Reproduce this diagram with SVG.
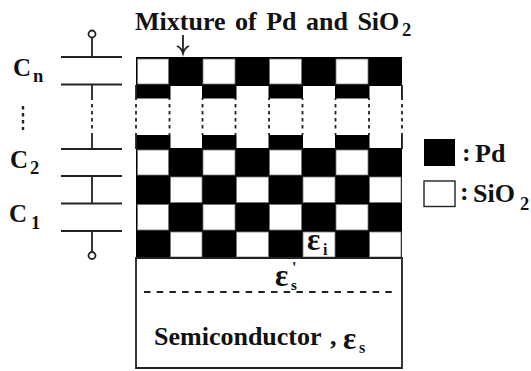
<svg xmlns="http://www.w3.org/2000/svg" width="531" height="371" viewBox="0 0 531 371">
<style>
text{font-family:"Liberation Serif","Times New Roman",serif;font-weight:bold;fill:#111}
.t{font-size:26px;word-spacing:3px}.b{font-size:26px}.c{font-size:25px}.s{font-size:18.500px}.e{font-size:31px}.u{font-size:16px}
.k{fill:#000}.w{fill:#fff;stroke:#777;stroke-width:.8}
.o{fill:#fff}
.l{stroke:#222;stroke-width:1.800;fill:none}
.d{stroke:#222;stroke-width:1.800;fill:none;stroke-dasharray:3.500 3.500}
</style>
<rect width="531" height="371" fill="#fff"/>
<g id="mixture-layer">
<rect class="k" x="136" y="57" width="266" height="201"/>
<rect class="o" x="136" y="98.500" width="266" height="36.500"/>
<g id="cells-white">
<rect class="w" x="137.500" y="59" width="31" height="25"/><rect class="w" x="203" y="59" width="32" height="25"/><rect class="w" x="269.500" y="59" width="32" height="25"/><rect class="w" x="336" y="59" width="32" height="25"/>
<rect class="o" x="170.500" y="86" width="31.500" height="14"/><rect class="o" x="236.500" y="86" width="32" height="14"/><rect class="o" x="303" y="86" width="32" height="14"/><rect class="o" x="369.500" y="86" width="31.500" height="14"/>
<rect class="o" x="170.500" y="134" width="31.500" height="14"/><rect class="o" x="236.500" y="134" width="32" height="14"/><rect class="o" x="303" y="134" width="32" height="14"/><rect class="o" x="369.500" y="134" width="31.500" height="14"/>
<rect class="w" x="137.500" y="150" width="31" height="25"/><rect class="w" x="203" y="150" width="32" height="25"/><rect class="w" x="269.500" y="150" width="32" height="25"/><rect class="w" x="336" y="150" width="32" height="25"/>
<rect class="w" x="170.500" y="177" width="31.500" height="25.500"/><rect class="w" x="236.500" y="177" width="32" height="25.500"/><rect class="w" x="303" y="177" width="32" height="25.500"/><rect class="w" x="369.500" y="177" width="31.500" height="25.500"/>
<rect class="w" x="137.500" y="204.500" width="31" height="25.500"/><rect class="w" x="203" y="204.500" width="32" height="25.500"/><rect class="w" x="269.500" y="204.500" width="32" height="25.500"/><rect class="w" x="336" y="204.500" width="32" height="25.500"/>
<rect class="w" x="170.500" y="232" width="31.500" height="25"/><rect class="w" x="236.500" y="232" width="32" height="25"/><rect class="w" x="303" y="232" width="32" height="25"/><rect class="w" x="369.500" y="232" width="31.500" height="25"/>
</g>
</g>
<g id="semiconductor">
<path class="l" d="M136 258H402V368H136Z"/>
<path class="l" d="M144 292H394" stroke-dasharray="6.500 6.200" stroke-width="2"/>
<text class="b" x="154" y="345">Semiconductor</text><text class="b" x="330" y="345">,</text>
<text class="e" x="343" y="349">ε<tspan class="u" x="359" y="353">s</tspan></text>
<text class="e" x="275" y="286">ε<tspan x="291" y="290" style="font-size:15px">s</tspan><tspan x="292" y="273" style="font-size:16px">'</tspan></text>
</g>
<g id="label-epsilon-i"><text class="e" x="307" y="250">ε<tspan class="u" x="323" y="255">i</tspan></text></g>
<g id="title">
<text class="t" x="135" y="30">Mixture of Pd and SiO</text><text class="s" x="402" y="36">2</text>
</g>
<g id="legend-pd"><rect class="k" x="424" y="139" width="31" height="27"/><text class="b" x="462" y="161">:</text><text class="b" x="475" y="162">Pd</text></g>
<g id="legend-sio2"><rect x="424" y="181" width="31" height="25.500" fill="#fff" stroke="#222" stroke-width="1.400"/><text class="b" x="460" y="200">:</text><text class="b" x="473" y="202">SiO</text><text class="s" x="520" y="210">2</text></g>
<g id="cap-labels">
<text class="c" x="13" y="76">C</text><text class="s" x="33" y="82">n</text>
<text class="c" x="10" y="168">C</text><text class="s" x="30" y="174">2</text>
<text class="c" x="9" y="222">C</text><text class="s" x="31" y="229">1</text>
</g>
<g id="connectors">
<path class="l" d="M183 35V53M177 46Q181.500 48 183 53.500Q184.500 48 189 46"/>
<circle class="l" cx="92" cy="34" r="3.500"/>
<path class="l" d="M92 37.500V57M61 57H122M61 84.500H122M92 84.500V100M92 133V149M61 149H122M61 176H122M92 176V203.500M61 203.500H122M61 231H122M92 231V251"/>
<circle class="l" cx="92" cy="255.500" r="3.500"/>
<path class="d" d="M92 104V132"/>
<path class="d" d="M23 106V130" style="stroke-width:2.400"/>
<path class="d" d="M136 104V132M169.500 104V132M202.500 104V132M235.500 104V132M269 104V132M302.500 104V132M335.500 104V132M369 104V132M402 104V132"/>
<path class="l" d="M136 85V100M136 133V149M169.500 98V100M169.500 133V135M202.500 98V100M202.500 133V135M235.500 98V100M235.500 133V135M269 98V100M269 133V135M302.500 98V100M302.500 133V135M335.500 98V100M335.500 133V135M369 98V100M369 133V135M402 85V100M402 133V149"/>
</g>
</svg>
